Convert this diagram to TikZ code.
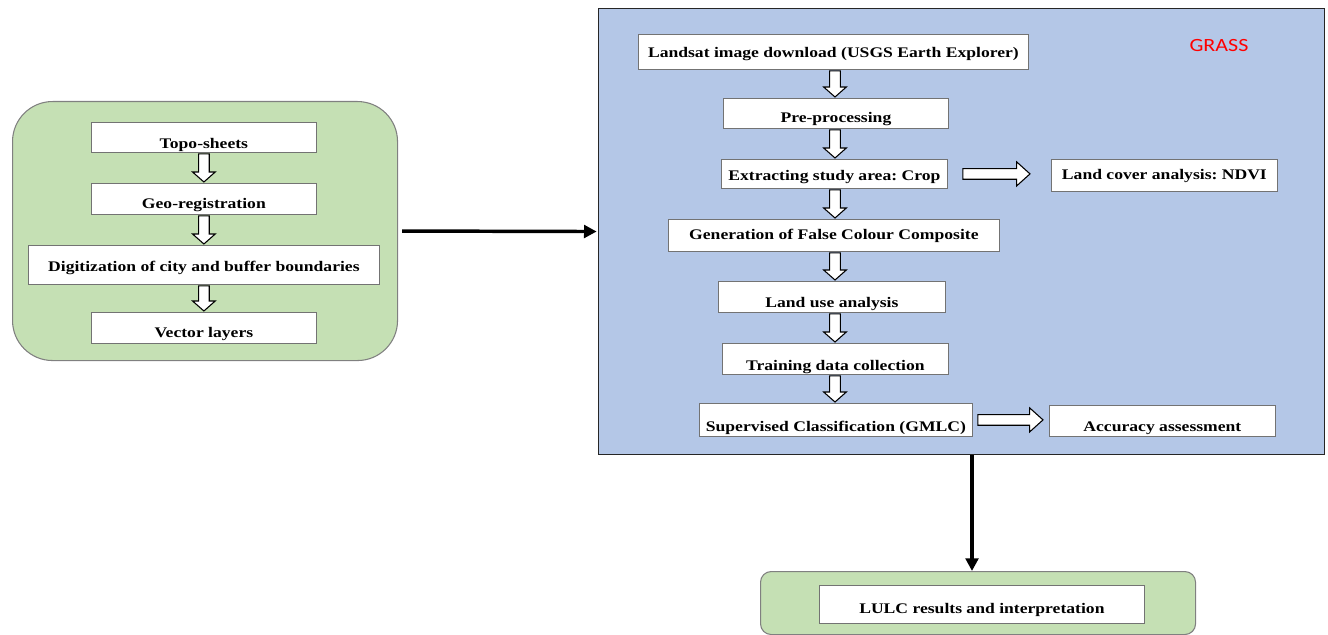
\documentclass[tikz,border=0pt]{standalone}
\usepackage{fontspec}
\setmainfont{Liberation Serif}
\newfontfamily\wideserif[FakeStretch=1.2]{Liberation Serif}
\newfontfamily\calib[FakeStretch=1.18]{Carlito}
\usetikzlibrary{calc,arrows.meta}
\frenchspacing
\definecolor{greenF}{HTML}{C5E0B4}
\definecolor{blueF}{HTML}{B4C7E7}
\definecolor{grassRed}{HTML}{FF0000}
\tikzset{
  sz/.style 2 args={minimum width=#1*0.75pt, minimum height=#2*0.75pt},
  tsh/.style={text height=#1*1.5pt, text depth=0pt},
  wbox/.style={draw=black!55, line width=0.6pt, fill=white, inner sep=0pt, anchor=north west,
    font=\wideserif\bfseries\fontsize{11}{13}\selectfont\frenchspacing},
  gbox/.style={draw=black!50, line width=0.8pt, fill=greenF, inner sep=0pt, anchor=north west},
  bluebox/.style={draw=black!85, line width=0.8pt, fill=blueF, inner sep=0pt, anchor=north west},
  blk/.style={draw=black, line width=0.8pt, fill=white},
  bigarrow/.style={line width=2.6pt, -{Triangle[length=9.5pt,width=9.5pt]}},
}
\newcommand\vblk[2]{\draw[blk] let \p1=(#1), \p2=(#2) in
  (\x1-4pt,\y1-0.75pt) -- (\x1-4pt,\y2+8.25pt) -- (\x1-8.5pt,\y2+8.25pt) -- (\x1,\y2+0.75pt)
  -- (\x1+8.5pt,\y2+8.25pt) -- (\x1+4pt,\y2+8.25pt) -- (\x1+4pt,\y1-0.75pt) -- cycle;}
\newcommand\hblk[2]{\draw[blk] let \p1=(#1), \p2=(#2) in
  (\x1,\y1+4pt) -- (\x2-10pt,\y1+4pt) -- (\x2-10pt,\y1+9pt) -- (\x2,\y1)
  -- (\x2-10pt,\y1-9pt) -- (\x2-10pt,\y1-4pt) -- (\x1,\y1-4pt) -- cycle;}
\begin{document}
\begin{tikzpicture}[x=0.75pt,y=-0.75pt]
\useasboundingbox (0,0) rectangle (1328,635);
% containers
\node[gbox, rounded corners=30pt, sz={385}{259}] (lbox) at (12,101) {};
\node[bluebox, sz={726}{446}] (grass) at (598,8) {};
\node[gbox, rounded corners=8pt, sz={435}{63}] (lulc) at (760,571) {};
\node[text=grassRed, font=\calib\fontsize{14}{16}\selectfont] (grasslbl) at (1219,46) {GRASS};
% left column
\node[wbox, sz={225}{30}, tsh=11] (topo) at (91,122) {Topo-sheets};
\node[wbox, sz={225}{31}, tsh=10] (geo) at (91,183) {Geo-registration};
\node[wbox, sz={351}{39}, tsh=7] (digit) at (28,245) {Digitization of city and buffer boundaries};
\node[wbox, sz={225}{31}, tsh=10] (vec) at (91,312) {Vector layers};
% GRASS column
\node[wbox, sz={390}{35}, tsh=6] (land) at (638,34) {Landsat image download (USGS Earth Explorer)};
\node[wbox, sz={225}{30}, tsh=9] (pre) at (723,98) {Pre-processing};
\node[wbox, sz={226}{29}, tsh=6.5] (ext) at (721,159) {Extracting study area: Crop};
\node[wbox, sz={226}{32}, tsh=4] (ndvi) at (1051,159) {Land cover analysis: NDVI};
\node[wbox, sz={331}{32}, tsh=4] (fcc) at (668,219) {Generation of False Colour Composite};
\node[wbox, sz={227}{31}, tsh=10.5] (lu) at (718,281) {Land use analysis};
\node[wbox, sz={226}{31}, tsh=11.5] (train) at (722,343) {Training data collection};
\node[wbox, sz={273}{33}, tsh=11.5] (sup) at (699,403) {Supervised Classification (GMLC)};
\node[wbox, sz={226}{31}, tsh=10.5] (acc) at (1049,405) {Accuracy assessment};
\node[wbox, sz={325}{38}, tsh=9] (res) at (819,585) {LULC results and interpretation};
% block arrows, left
\vblk{topo.south}{geo.north}
\vblk{geo.south}{digit.north -| geo.south}
\vblk{digit.south -| vec.north}{vec.north}
% block arrows, GRASS
\coordinate (ax) at (835,0);
\vblk{land.south -| ax}{pre.north -| ax}
\vblk{pre.south -| ax}{ext.north -| ax}
\vblk{ext.south -| ax}{fcc.north -| ax}
\vblk{fcc.south -| ax}{lu.north -| ax}
\vblk{lu.south -| ax}{train.north -| ax}
\vblk{train.south -| ax}{sup.north -| ax}
\hblk{$(ext.east)+(15,0)$}{$(ndvi.west)+(-21,0)$}
\hblk{$(sup.east)+(5,0)$}{$(acc.west)+(-6,0)$}
% main arrows
\draw[bigarrow] ([xshift=3pt]lbox.east) -- ([xshift=-1pt]grass.west);
\coordinate (dx) at (972,0);
\draw[bigarrow] (grass.south -| dx) -- (lulc.north -| dx);
\end{tikzpicture}
\end{document}
